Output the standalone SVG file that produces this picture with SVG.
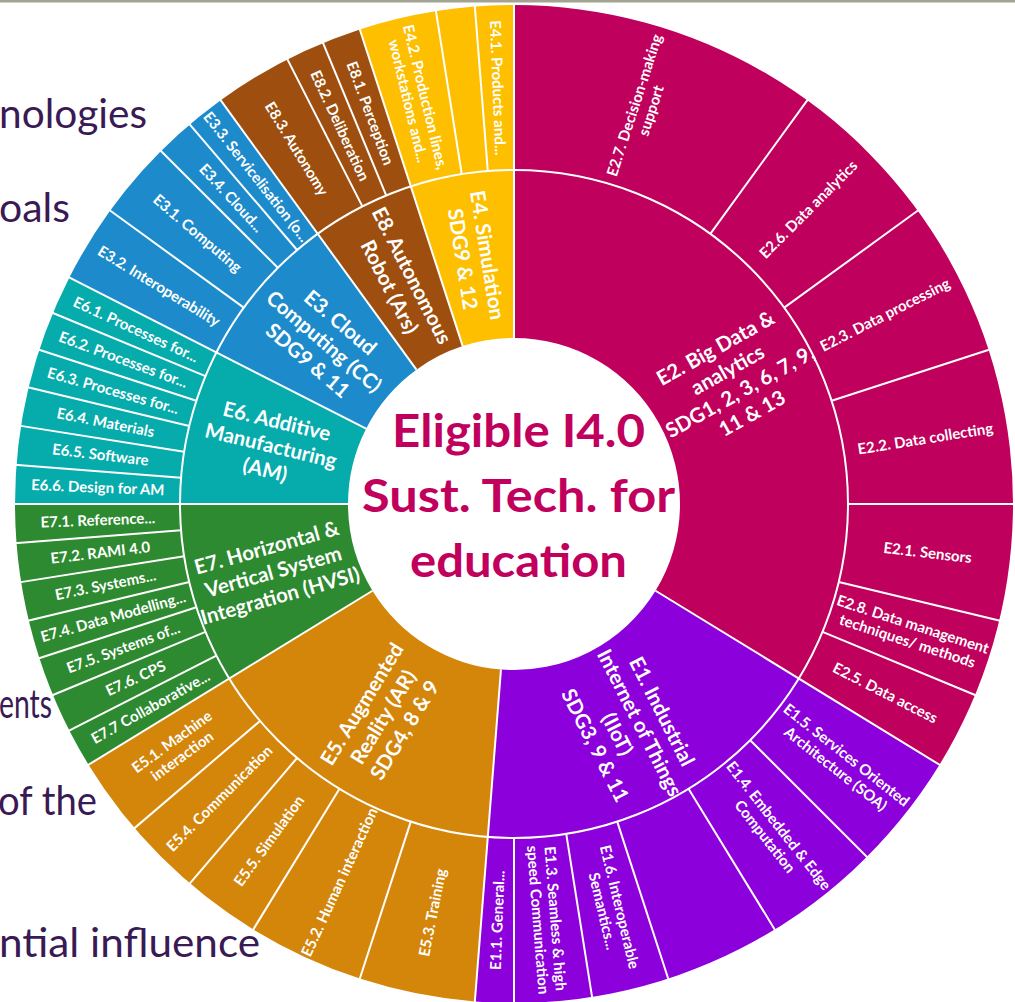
<svg xmlns="http://www.w3.org/2000/svg" xmlns:xlink="http://www.w3.org/1999/xlink" width="1015" height="1002" viewBox="0 0 1015 1002">
  <style>
    .bg { font-family: Lato, "Noto Sans", sans-serif; font-size: 41px; fill: #3a1a55; }
    .lbl { font-family: Lato, "Open Sans", sans-serif; font-weight: 700; font-size: 15px; fill: #ffffff; text-anchor: middle; }
    .grp { font-family: Lato, "Open Sans", sans-serif; font-weight: 700; font-size: 20.5px; fill: #ffffff; text-anchor: middle; }
    .ctr { font-family: Lato, "Open Sans", sans-serif; font-weight: 700; font-size: 45px; fill: #c1005e; text-anchor: middle; }
    .div { stroke: #ffffff; stroke-width: 2; fill: none; }
  </style>
  <defs>
    <!-- radial dividers drawn at 12 o'clock, rotated into place about the hub (514,504) -->
    <line id="tickOuter" x1="514" y1="170" x2="514" y2="3" class="div"/>
    <line id="tickFull" x1="514" y1="338" x2="514" y2="3" class="div"/>
  </defs>

  <rect width="1015" height="1002" fill="#ffffff"/>
  <rect x="0" y="0" width="1015" height="2.5" fill="#a3a392"/>

  <!-- slide text behind the chart -->
  <g id="slide-text">
    <text class="bg" x="-1" y="128" textLength="148" lengthAdjust="spacingAndGlyphs">nologies</text>
    <text class="bg" x="-1" y="222" textLength="71" lengthAdjust="spacingAndGlyphs">oals</text>
    <text class="bg" x="-1" y="718" textLength="53" lengthAdjust="spacingAndGlyphs">ents</text>
    <text class="bg" x="-2" y="815" textLength="99" lengthAdjust="spacingAndGlyphs">of the</text>
    <text class="bg" x="-1" y="957" textLength="261" lengthAdjust="spacingAndGlyphs">ntial influence</text>
  </g>

  <!-- family wedges (inner + outer ring share the family colour) -->
  <g id="E2">
    <path fill="#bf005c" d="M514,5 A499,499 0 0 1 939.47,764.73 L655.54,590.74 A166,166 0 0 0 514,338 Z"/>
  </g>
  <g id="E1">
    <path fill="#8c00dc" d="M939.47,764.73 A499,499 0 0 1 474.85,1001.46 L500.98,669.49 A166,166 0 0 0 655.54,590.74 Z"/>
  </g>
  <g id="E5">
    <path fill="#d4860b" d="M474.85,1001.46 A499,499 0 0 1 88.53,764.73 L372.46,590.74 A166,166 0 0 0 500.98,669.49 Z"/>
  </g>
  <g id="E7">
    <path fill="#2d8a30" d="M88.53,764.73 A499,499 0 0 1 15,504 L348,504 A166,166 0 0 0 372.46,590.74 Z"/>
  </g>
  <g id="E6">
    <path fill="#06abac" d="M15,504 A499,499 0 0 1 69.39,277.46 L366.09,428.64 A166,166 0 0 0 348,504 Z"/>
  </g>
  <g id="E3">
    <path fill="#1d8bcb" d="M69.39,277.46 A499,499 0 0 1 220.69,100.30 L416.43,369.70 A166,166 0 0 0 366.09,428.64 Z"/>
  </g>
  <g id="E8">
    <path fill="#9e4f10" d="M220.69,100.30 A499,499 0 0 1 359.80,29.42 L462.70,346.12 A166,166 0 0 0 416.43,369.70 Z"/>
  </g>
  <g id="E4">
    <path fill="#fdbf00" d="M359.80,29.42 A499,499 0 0 1 514,5 L514,338 A166,166 0 0 0 462.70,346.12 Z"/>
  </g>

  <!-- ring separators -->
  <g id="connectors">
    <circle cx="514" cy="504" r="334" class="div"/>
    <use xlink:href="#tickFull" transform="rotate(0 514 504)"/>
    <use xlink:href="#tickFull" transform="rotate(121.5 514 504)"/>
    <use xlink:href="#tickFull" transform="rotate(184.5 514 504)"/>
    <use xlink:href="#tickFull" transform="rotate(238.5 514 504)"/>
    <use xlink:href="#tickFull" transform="rotate(270 514 504)"/>
    <use xlink:href="#tickFull" transform="rotate(297 514 504)"/>
    <use xlink:href="#tickFull" transform="rotate(324 514 504)"/>
    <use xlink:href="#tickFull" transform="rotate(342 514 504)"/>
    <use xlink:href="#tickOuter" transform="rotate(36 514 504)"/>
    <use xlink:href="#tickOuter" transform="rotate(54 514 504)"/>
    <use xlink:href="#tickOuter" transform="rotate(72 514 504)"/>
    <use xlink:href="#tickOuter" transform="rotate(90 514 504)"/>
    <use xlink:href="#tickOuter" transform="rotate(103.5 514 504)"/>
    <use xlink:href="#tickOuter" transform="rotate(112.5 514 504)"/>
    <use xlink:href="#tickOuter" transform="rotate(135 514 504)"/>
    <use xlink:href="#tickOuter" transform="rotate(148.5 514 504)"/>
    <use xlink:href="#tickOuter" transform="rotate(162 514 504)"/>
    <use xlink:href="#tickOuter" transform="rotate(171 514 504)"/>
    <use xlink:href="#tickOuter" transform="rotate(180 514 504)"/>
    <use xlink:href="#tickOuter" transform="rotate(198 514 504)"/>
    <use xlink:href="#tickOuter" transform="rotate(211.5 514 504)"/>
    <use xlink:href="#tickOuter" transform="rotate(220.5 514 504)"/>
    <use xlink:href="#tickOuter" transform="rotate(229.5 514 504)"/>
    <use xlink:href="#tickOuter" transform="rotate(243 514 504)"/>
    <use xlink:href="#tickOuter" transform="rotate(247.5 514 504)"/>
    <use xlink:href="#tickOuter" transform="rotate(252 514 504)"/>
    <use xlink:href="#tickOuter" transform="rotate(256.5 514 504)"/>
    <use xlink:href="#tickOuter" transform="rotate(261 514 504)"/>
    <use xlink:href="#tickOuter" transform="rotate(265.5 514 504)"/>
    <use xlink:href="#tickOuter" transform="rotate(274.5 514 504)"/>
    <use xlink:href="#tickOuter" transform="rotate(279 514 504)"/>
    <use xlink:href="#tickOuter" transform="rotate(283.5 514 504)"/>
    <use xlink:href="#tickOuter" transform="rotate(288 514 504)"/>
    <use xlink:href="#tickOuter" transform="rotate(292.5 514 504)"/>
    <use xlink:href="#tickOuter" transform="rotate(306 514 504)"/>
    <use xlink:href="#tickOuter" transform="rotate(315 514 504)"/>
    <use xlink:href="#tickOuter" transform="rotate(319.5 514 504)"/>
    <use xlink:href="#tickOuter" transform="rotate(333 514 504)"/>
    <use xlink:href="#tickOuter" transform="rotate(337.5 514 504)"/>
    <use xlink:href="#tickOuter" transform="rotate(351 514 504)"/>
    <use xlink:href="#tickOuter" transform="rotate(355.5 514 504)"/>
  </g>

  <!-- inner ring: family labels -->
  <g id="family-labels">
    <text class="grp" transform="translate(514 504) rotate(60.75) translate(0 -252) rotate(-90)">
      <tspan x="0" y="-30.5">E2. Big Data &amp;</tspan><tspan x="0" y="-5.5">analytics</tspan><tspan x="0" y="19.5">SDG1, 2, 3, 6, 7, 9,</tspan><tspan x="0" y="44.5">11 &amp; 13</tspan></text>
    <text class="grp" transform="translate(514 504) rotate(153) translate(0 -252) rotate(-90)">
      <tspan x="0" y="-30.5">E1. Industrial</tspan><tspan x="0" y="-5.5">Internet of Things</tspan><tspan x="0" y="19.5">(IIoT)</tspan><tspan x="0" y="44.5">SDG3, 9 &amp; 11</tspan></text>
    <text class="grp" transform="translate(514 504) rotate(211.5) translate(0 -250) rotate(90)">
      <tspan x="0" y="-18">E5. Augmented</tspan><tspan x="0" y="7">Reality (AR)</tspan><tspan x="0" y="32">SDG4, 8 &amp; 9</tspan></text>
    <text class="grp" transform="translate(514 504) rotate(254.25) translate(0 -250) rotate(90)">
      <tspan x="0" y="-18">E7. Horizontal &amp;</tspan><tspan x="0" y="7">Vertical System</tspan><tspan x="0" y="32">Integration (HVSI)</tspan></text>
    <text class="grp" transform="translate(514 504) rotate(283.5) translate(0 -250) rotate(90)">
      <tspan x="0" y="-18">E6. Additive</tspan><tspan x="0" y="7">Manufacturing</tspan><tspan x="0" y="32">(AM)</tspan></text>
    <text class="grp" transform="translate(514 504) rotate(310.5) translate(0 -250) rotate(90)">
      <tspan x="0" y="-18">E3. Cloud</tspan><tspan x="0" y="7">Computing (CC)</tspan><tspan x="0" y="32">SDG9 &amp; 11</tspan></text>
    <text class="grp" transform="translate(514 504) rotate(333) translate(0 -250) rotate(90)">
      <tspan x="0" y="-5.5">E8. Autonomous</tspan><tspan x="0" y="19.5">Robot (Ars)</tspan></text>
    <text class="grp" transform="translate(514 504) rotate(351) translate(0 -250) rotate(90)">
      <tspan x="0" y="-5.5">E4. Simulation</tspan><tspan x="0" y="19.5">SDG9 &amp; 12</tspan></text>
  </g>

  <!-- outer ring: technology labels -->
  <g id="tech-labels">
    <text class="lbl" transform="translate(514 504) rotate(18) translate(0 -416.5) rotate(-90)"><tspan x="0" y="-3.5">E2.7. Decision-making</tspan><tspan x="0" y="14">support</tspan></text>
    <text class="lbl" transform="translate(514 504) rotate(45) translate(0 -416.5) rotate(-90)" y="5">E2.6. Data analytics</text>
    <text class="lbl" transform="translate(514 504) rotate(63) translate(0 -416.5) rotate(-90)" y="5">E2.3. Data processing</text>
    <text class="lbl" transform="translate(514 504) rotate(81) translate(0 -416.5) rotate(-90)" y="5">E2.2. Data collecting</text>
    <text class="lbl" transform="translate(514 504) rotate(96.75) translate(0 -416.5) rotate(-90)" y="5">E2.1. Sensors</text>
    <text class="lbl" transform="translate(514 504) rotate(108) translate(0 -416.5) rotate(-90)"><tspan x="0" y="-3.5">E2.8. Data management</tspan><tspan x="0" y="14">techniques/ methods</tspan></text>
    <text class="lbl" transform="translate(514 504) rotate(117) translate(0 -416.5) rotate(-90)" y="5">E2.5. Data access</text>
    <text class="lbl" transform="translate(514 504) rotate(128.25) translate(0 -416.5) rotate(-90)"><tspan x="0" y="-3.5">E1.5. Services Oriented</tspan><tspan x="0" y="14">Architecture (SOA)</tspan></text>
    <text class="lbl" transform="translate(514 504) rotate(141.75) translate(0 -416.5) rotate(-90)"><tspan x="0" y="-3.5">E1.4. Embedded &amp; Edge</tspan><tspan x="0" y="14">Computation</tspan></text>
    <text class="lbl" transform="translate(514 504) rotate(166.5) translate(0 -416.5) rotate(-90)"><tspan x="0" y="-3.5">E1.6. Interoperable</tspan><tspan x="0" y="14">Semantics...</tspan></text>
    <text class="lbl" transform="translate(514 504) rotate(175.5) translate(0 -416.5) rotate(-90)"><tspan x="0" y="-3.5">E1.3. Seamless &amp; high</tspan><tspan x="0" y="14">speed Communication</tspan></text>
    <text class="lbl" transform="translate(514 504) rotate(182.25) translate(0 -416.5) rotate(90)" y="5">E1.1. General...</text>
    <text class="lbl" transform="translate(514 504) rotate(191.25) translate(0 -416.5) rotate(90)" y="5">E5.3. Training</text>
    <text class="lbl" transform="translate(514 504) rotate(204.75) translate(0 -416.5) rotate(90)" y="5">E5.2. Human interaction</text>
    <text class="lbl" transform="translate(514 504) rotate(216) translate(0 -416.5) rotate(90)" y="5">E5.5. Simulation</text>
    <text class="lbl" transform="translate(514 504) rotate(225) translate(0 -416.5) rotate(90)" y="5">E5.4. Communication</text>
    <text class="lbl" transform="translate(514 504) rotate(234) translate(0 -416.5) rotate(90)"><tspan x="0" y="-3.5">E5.1. Machine</tspan><tspan x="0" y="14">interaction</tspan></text>
    <text class="lbl" transform="translate(514 504) rotate(240.75) translate(0 -416.5) rotate(90)" y="5">E7.7 Collaborative...</text>
    <text class="lbl" transform="translate(514 504) rotate(245.25) translate(0 -416.5) rotate(90)" y="5">E7.6. CPS</text>
    <text class="lbl" transform="translate(514 504) rotate(249.75) translate(0 -416.5) rotate(90)" y="5">E7.5. Systems of...</text>
    <text class="lbl" transform="translate(514 504) rotate(254.25) translate(0 -416.5) rotate(90)" y="5">E7.4. Data Modelling...</text>
    <text class="lbl" transform="translate(514 504) rotate(258.75) translate(0 -416.5) rotate(90)" y="5">E7.3. Systems...</text>
    <text class="lbl" transform="translate(514 504) rotate(263.25) translate(0 -416.5) rotate(90)" y="5">E7.2. RAMI 4.0</text>
    <text class="lbl" transform="translate(514 504) rotate(267.75) translate(0 -416.5) rotate(90)" y="5">E7.1. Reference...</text>
    <text class="lbl" transform="translate(514 504) rotate(272.25) translate(0 -416.5) rotate(90)" y="5">E6.6. Design for AM</text>
    <text class="lbl" transform="translate(514 504) rotate(276.75) translate(0 -416.5) rotate(90)" y="5">E6.5. Software</text>
    <text class="lbl" transform="translate(514 504) rotate(281.25) translate(0 -416.5) rotate(90)" y="5">E6.4. Materials</text>
    <text class="lbl" transform="translate(514 504) rotate(285.75) translate(0 -416.5) rotate(90)" y="5">E6.3. Processes for...</text>
    <text class="lbl" transform="translate(514 504) rotate(290.25) translate(0 -416.5) rotate(90)" y="5">E6.2. Processes for...</text>
    <text class="lbl" transform="translate(514 504) rotate(294.75) translate(0 -416.5) rotate(90)" y="5">E6.1. Processes for...</text>
    <text class="lbl" transform="translate(514 504) rotate(301.5) translate(0 -416.5) rotate(90)" y="5">E3.2. Interoperability</text>
    <text class="lbl" transform="translate(514 504) rotate(310.5) translate(0 -416.5) rotate(90)" y="5">E3.1. Computing</text>
    <text class="lbl" transform="translate(514 504) rotate(317.25) translate(0 -416.5) rotate(90)" y="5">E3.4. Cloud...</text>
    <text class="lbl" transform="translate(514 504) rotate(321.75) translate(0 -416.5) rotate(90)" y="5">E3.3. Servicelisation (o...</text>
    <text class="lbl" transform="translate(514 504) rotate(328.5) translate(0 -416.5) rotate(90)" y="5">E8.3. Autonomy</text>
    <text class="lbl" transform="translate(514 504) rotate(335.25) translate(0 -416.5) rotate(90)" y="5">E8.2. Deliberation</text>
    <text class="lbl" transform="translate(514 504) rotate(339.75) translate(0 -416.5) rotate(90)" y="5">E8.1. Perception</text>
    <text class="lbl" transform="translate(514 504) rotate(346.5) translate(0 -416.5) rotate(90)"><tspan x="0" y="-3.5">E4.2. Production lines,</tspan><tspan x="0" y="14">workstations and...</tspan></text>
    <text class="lbl" transform="translate(514 504) rotate(357.75) translate(0 -416.5) rotate(90)" y="5">E4.1. Products and...</text>
  </g>

  <!-- hub title -->
  <g id="hub">
    <text class="ctr" x="518.5" y="447" textLength="253" lengthAdjust="spacingAndGlyphs">Eligible I4.0</text>
    <text class="ctr" x="518.5" y="512" textLength="313" lengthAdjust="spacingAndGlyphs">Sust. Tech. for</text>
    <text class="ctr" x="518.5" y="577" textLength="217" lengthAdjust="spacingAndGlyphs">education</text>
  </g>
</svg>
